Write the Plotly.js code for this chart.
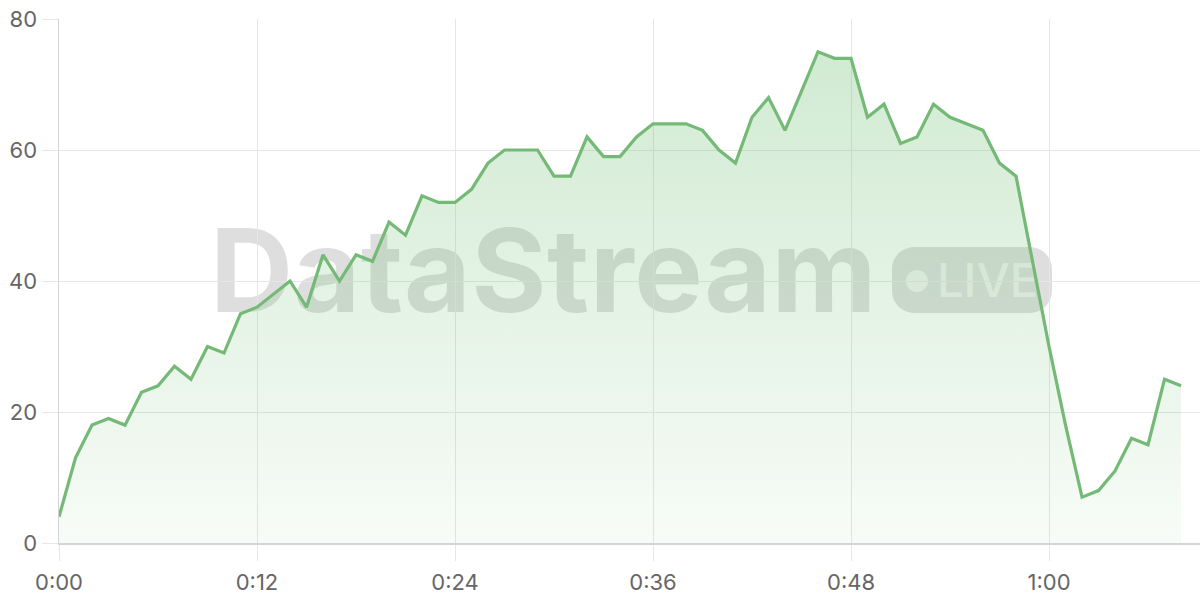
<!DOCTYPE html>
<html>
<head>
<meta charset="utf-8">
<script src="https://cdn.plot.ly/plotly-3.0.1.min.js"></script>
<style>
  html,body{margin:0;padding:0;background:#fff;}
  #wrap{position:relative;width:1200px;height:600px;}
  #mark{position:absolute;left:0;top:0;}
  #chart{position:absolute;left:0;top:0;width:1200px;height:600px;}
</style>
</head>
<body>
<div id="wrap">
  <svg id="mark" width="1200" height="600">
    <text x="210" y="312" font-family="Inter, sans-serif" font-weight="700" font-size="115" fill="rgba(0,0,0,0.13)" letter-spacing="0.5">DataStream</text>
    <rect x="892" y="247" width="160" height="66" rx="22" fill="rgba(0,0,0,0.13)"></rect>
    <circle cx="917" cy="281" r="11" fill="rgba(255,255,255,0.6)"></circle>
    <text x="937" y="297" font-family="Inter, sans-serif" font-weight="500" font-size="47" fill="rgba(255,255,255,0.6)">LIVE</text>
  </svg>
  <div id="chart"></div>
</div>
<script>
// samples, one per second
const VALUES = [4,13,18,19,18,23,24,27,25,30,29,35,36,38,40,36,44,40,44,43,
  49,47,53,52,52,54,58,60,60,60,56,56,62,59,59,62,64,64,64,63,
  60,58,65,68,63,69,75,74,74,65,67,61,62,67,65,64,63,58,56,43,
  30,18,7,8,11,16,15,25,24];
const TICK_SECONDS = [0,12,24,36,48,60];
const TICK_LABELS = ["0:00","0:12","0:24","0:36","0:48","1:00"];
const Y_TICKS = [0,20,40,60,80];

const GREEN = 'rgb(116,185,118)';
const GRID = '#e6e6e6';
const FONT = {family:'Inter, sans-serif',size:22,color:'#666'};

const secs = VALUES.map((_, i) => i);

const trace = {
  x: secs, y: VALUES, type:'scatter', mode:'lines',
  line:{color:GREEN,width:3.2,shape:'linear'},
  fill:'tozeroy',
  fillgradient:{type:'vertical',start:0,stop:80,
    colorscale:[[0,'rgba(102,187,106,0.05)'],[1,'rgba(102,187,106,0.32)']]},
  hoverinfo:'skip'
};

const layout = {
  width:1200, height:600,
  paper_bgcolor:'rgba(0,0,0,0)', plot_bgcolor:'rgba(0,0,0,0)',
  margin:{l:59,r:0,t:19,b:57},
  showlegend:false,
  font:FONT,
  xaxis:{
    range:[0,69.15], tickvals:TICK_SECONDS, ticktext:TICK_LABELS,
    showgrid:true, gridcolor:GRID, gridwidth:1,
    showline:true, linecolor:'#d4d4d4', linewidth:1.5,
    zeroline:false, ticks:'outside', ticklen:16, tickcolor:GRID, tickwidth:1,
    ticklabelstandoff:3,
    tickfont:FONT, fixedrange:true
  },
  yaxis:{
    range:[0,80], tickvals:Y_TICKS,
    showgrid:true, gridcolor:GRID, gridwidth:1,
    showline:true, linecolor:'#d4d4d4', linewidth:1.5,
    zeroline:false, ticks:'outside', ticklen:16, tickcolor:GRID, tickwidth:1,
    tickfont:FONT, fixedrange:true
  }
};

Plotly.newPlot('chart',[trace],layout,{displayModeBar:false,staticPlot:true});
</script>
</body>
</html>
